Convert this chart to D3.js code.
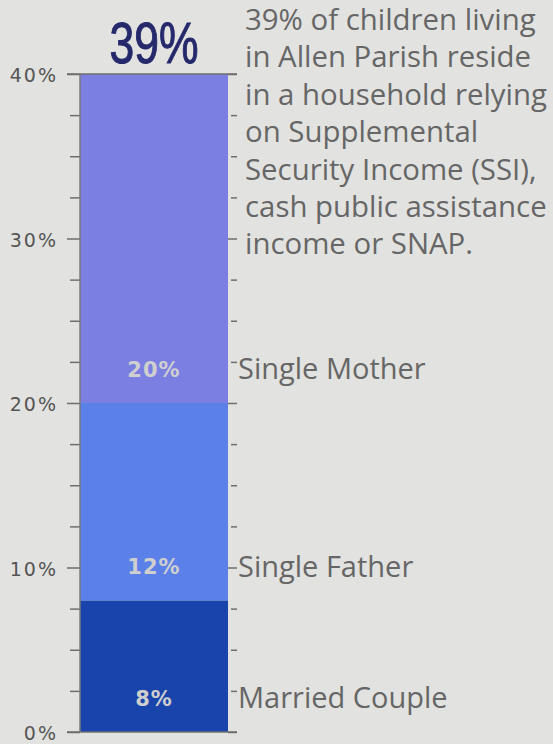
<!DOCTYPE html>
<html><head><meta charset="utf-8">
<script src="https://cdn.jsdelivr.net/npm/d3@7"></script>
<style>
html,body{margin:0;padding:0;background:#e2e2e0;overflow:hidden;}
svg{display:block;}
</style></head>
<body>
<script>
const categories = ["Married Couple", "Single Father", "Single Mother"];
const values = [8, 12, 20];
const valueLabels = ["8%", "12%", "20%"];
const headline = "39%";
const descriptionLines = ["39% of children living", "in Allen Parish reside", "in a household relying", "on Supplemental", "Security Income (SSI),", "cash public assistance", "income or SNAP."];
const majorTicks = [0, 10, 20, 30, 40];
const tickStep = 2.5;
const colors = ["#1944ab", "#5b80e8", "#7b7fe2"];

const W = 553, H = 744;
const svg = d3.select("body").append("svg").attr("width", W).attr("height", H);

const y = d3.scaleLinear().domain([0, 40]).range([732, 74]);
const barX0 = 80, barX1 = 228;
const allTicks = d3.range(0, 40 + 0.001, tickStep);

// stack
const stacked = [];
let acc = 0;
values.forEach((v, i) => { stacked.push({cat: categories[i], y0: acc, y1: acc + v, label: valueLabels[i], color: colors[i]}); acc += v; });

// left axis
const leftAxis = d3.axisLeft(y).tickValues(allTicks)
  .tickSize(10).tickPadding(10)
  .tickFormat(d => majorTicks.includes(d) ? d + "%" : "");
const gl = svg.append("g").attr("transform", `translate(${barX0},0)`).call(leftAxis);
gl.select(".domain").remove();
gl.selectAll(".tick line").attr("stroke", "#6e6e6e").attr("stroke-width", 1.5)
  .attr("x2", d => majorTicks.includes(d) ? -13 : -10);
gl.selectAll(".tick text").attr("font-family", "'DejaVu Sans', sans-serif")
  .attr("font-size", 19).attr("letter-spacing", 2).attr("fill", "#555").attr("x", -22).attr("dy", "0.42em");

// right axis ticks
const rightAxis = d3.axisRight(y).tickValues(allTicks).tickSize(6).tickFormat("");
const gr = svg.append("g").attr("transform", `translate(${barX1},0)`).call(rightAxis);
gr.select(".domain").remove();
gr.selectAll(".tick line").attr("stroke", "#6e6e6e").attr("stroke-width", 1.5)
  .attr("x1", d => majorTicks.includes(d) ? 0 : 3)
  .attr("x2", 9);

// bars
svg.selectAll("rect.seg").data(stacked).enter().append("rect")
  .attr("class", "seg")
  .attr("x", barX0).attr("width", barX1 - barX0)
  .attr("y", d => y(d.y1)).attr("height", d => y(d.y0) - y(d.y1))
  .attr("fill", d => d.color);

// top & bottom lines, left vertical line
[0, 40].forEach(v => {
  svg.append("line").attr("x1", 67).attr("x2", 237).attr("y1", y(v)).attr("y2", y(v))
    .attr("stroke", "#6e6e6e").attr("stroke-width", 1.5);
});
svg.append("line").attr("x1", barX0).attr("x2", barX0).attr("y1", y(40)).attr("y2", y(0))
  .attr("stroke", "#7a7a7a").attr("stroke-width", 1.5);

// value labels
const labelOffset = 34;
svg.selectAll("text.val").data(stacked).enter().append("text")
  .attr("class", "val")
  .attr("x", (barX0 + barX1) / 2).attr("y", d => y(d.y0) - labelOffset)
  .attr("dy", "0.36em").attr("text-anchor", "middle")
  .attr("font-family", "'DejaVu Sans', sans-serif").attr("font-weight", "bold")
  .attr("font-size", 21).attr("letter-spacing", 1).attr("fill", "#cfcfcf")
  .text(d => d.label);

// category labels
svg.selectAll("text.cat").data(stacked).enter().append("text")
  .attr("class", "cat")
  .attr("x", 238).attr("y", d => y(d.y0) - labelOffset)
  .attr("dy", "0.36em")
  .attr("font-family", "'Open Sans', 'Noto Sans', sans-serif")
  .attr("font-size", 29).attr("fill", "#666")
  .text(d => d.cat);

// headline (condensed)
svg.append("text")
  .attr("transform", "translate(154,63) scale(0.78,1.02)")
  .attr("text-anchor", "middle")
  .attr("font-family", "'Liberation Sans', Arial, sans-serif")
  .attr("font-size", 57).attr("fill", "#25296b")
  .attr("stroke", "#25296b").attr("stroke-width", 1)
  .text(headline);

// description
const desc = svg.append("text")
  .attr("font-family", "'Open Sans', 'Noto Sans', sans-serif")
  .attr("font-size", 27).attr("fill", "#666");
descriptionLines.forEach((l, i) => {
  desc.append("tspan").attr("x", 245).attr("y", 30 + i * 37.4).text(l);
});
// fit widest line to target width
const widest = d3.max(desc.selectAll("tspan").nodes(), n => n.getComputedTextLength());
if (widest > 0) desc.attr("font-size", 27 * 302 / widest);
</script>
</body></html>
